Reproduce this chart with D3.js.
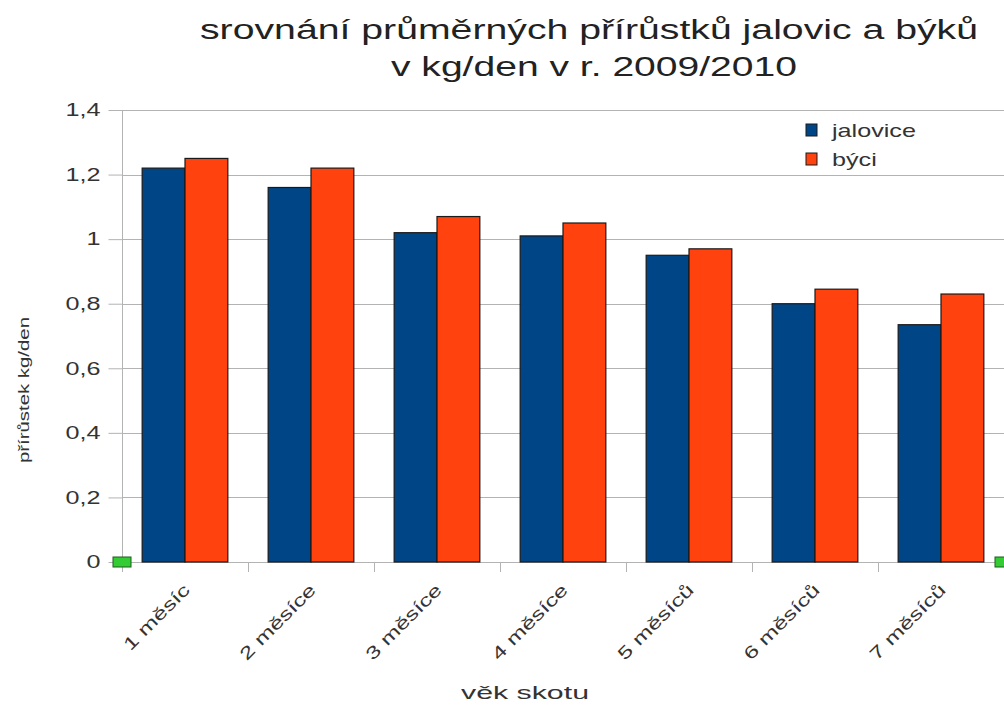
<!DOCTYPE html>
<html>
<head>
<meta charset="utf-8">
<script src="https://cdn.jsdelivr.net/npm/d3@7"></script>
<style>
  html, body { margin: 0; padding: 0; background: #fff; }
  svg { display: block; }
  text { font-family: "Liberation Sans", Arial, sans-serif; }
</style>
</head>
<body>
<svg id="chart" width="1004" height="706"></svg>
<script>
// Average daily weight gain (kg/day), heifers vs bulls, 2009/2010
const categories = ["1 měsíc", "2 měsíce", "3 měsíce", "4 měsíce", "5 měsíců", "6 měsíců", "7 měsíců"];
const seriesNames = ["jalovice", "býci"];
const jalovice = [1.22, 1.16, 1.02, 1.01, 0.95, 0.80, 0.735];
const byci = [1.25, 1.22, 1.07, 1.05, 0.97, 0.845, 0.83];
const yTicks = [0, 0.2, 0.4, 0.6, 0.8, 1, 1.2, 1.4];
const yTickLabels = ["0", "0,2", "0,4", "0,6", "0,8", "1", "1,2", "1,4"];
const colors = ["#004586", "#ff420e"];

const titleLines = ["srovnání průměrných přírůstků jalovic a býků", "v kg/den v r. 2009/2010"];
const xTitle = "věk skotu";
const yTitle = "přírůstek kg/den";

const stretch = 1.4; // wide lettering

const svg = d3.select("#chart");

const plot = { left: 122, right: 1004, top: 110, bottom: 562 };

const x0 = d3.scaleBand().domain(categories).range([plot.left, plot.right]).padding(0);
const bw = x0.bandwidth();
const x1 = d3.scaleBand().domain(seriesNames).range([bw * 0.16, bw * 0.84]).padding(0);
const y = d3.scaleLinear().domain([0, 1.4]).range([plot.bottom, plot.top]);

const rows = categories.map((c, i) => ({ cat: c, values: [jalovice[i], byci[i]] }));

// horizontal grid lines
svg.append("g")
  .selectAll("line")
  .data(yTicks)
  .join("line")
  .attr("x1", plot.left).attr("x2", plot.right)
  .attr("y1", d => Math.round(y(d)) + 0.5).attr("y2", d => Math.round(y(d)) + 0.5)
  .attr("stroke", "#b3b3b3").attr("stroke-width", 1);

// y axis
const yAxis = d3.axisLeft(y)
  .tickValues(yTicks)
  .tickSize(14)
  .tickSizeOuter(0)
  .tickPadding(8)
  .tickFormat((d, i) => yTickLabels[i]);

const gy = svg.append("g")
  .attr("transform", `translate(${plot.left + 0.5},0)`)
  .call(yAxis);
gy.select(".domain").attr("stroke", "#b3b3b3").attr("d", `M0,${plot.top}V${plot.bottom + 10}`);
gy.selectAll(".tick line").attr("stroke", "#b3b3b3");
gy.selectAll(".tick text")
  .attr("font-size", 18)
  .attr("fill", "#333")
  .attr("transform", function () {
    const xx = +d3.select(this).attr("x");
    return `translate(${xx},0) scale(${stretch},1) translate(${-xx},0)`;
  });

// x axis ticks at category boundaries
const xBounds = categories.map(c => x0(c)).concat([plot.right]);
svg.append("g")
  .selectAll("line")
  .data(xBounds)
  .join("line")
  .attr("x1", d => Math.round(d) + 0.5).attr("x2", d => Math.round(d) + 0.5)
  .attr("y1", plot.bottom).attr("y2", plot.bottom + 10)
  .attr("stroke", "#b3b3b3");

// bars
const groups = svg.append("g")
  .selectAll("g")
  .data(rows)
  .join("g")
  .attr("transform", d => `translate(${x0(d.cat)},0)`);

groups.selectAll("rect")
  .data(d => d.values.map((v, i) => ({ key: seriesNames[i], v, i })))
  .join("rect")
  .attr("x", d => x1(d.key))
  .attr("width", x1.bandwidth())
  .attr("y", d => y(d.v))
  .attr("height", d => y(0) - y(d.v))
  .attr("fill", d => colors[d.i])
  .attr("stroke", "#1a1a1a")
  .attr("stroke-width", 1.2);

// category labels
svg.append("g")
  .selectAll("text")
  .data(categories)
  .join("text")
  .attr("transform", d => `translate(${x0(d) + bw / 2 + 6},591) rotate(-45) scale(${stretch},1)`)
  .attr("text-anchor", "end")
  .attr("font-size", 17.5)
  .attr("fill", "#333")
  .text(d => d);

// end markers on the zero line
svg.append("g")
  .selectAll("rect")
  .data([plot.left, plot.right])
  .join("rect")
  .attr("x", d => d - 9)
  .attr("y", y(0) - 5)
  .attr("width", 18)
  .attr("height", 10)
  .attr("fill", "#33cc33")
  .attr("stroke", "#1f5c1f")
  .attr("stroke-width", 1);

// title
svg.append("text")
  .attr("x", 200).attr("y", 39)
  .attr("textLength", 778).attr("lengthAdjust", "spacingAndGlyphs")
  .attr("font-size", 27).attr("fill", "#222")
  .text(titleLines[0]);
svg.append("text")
  .attr("x", 391).attr("y", 76)
  .attr("textLength", 406).attr("lengthAdjust", "spacingAndGlyphs")
  .attr("font-size", 27).attr("fill", "#222")
  .text(titleLines[1]);

// axis titles
svg.append("text")
  .attr("x", 461).attr("y", 699)
  .attr("textLength", 128).attr("lengthAdjust", "spacingAndGlyphs")
  .attr("font-size", 19).attr("fill", "#333")
  .text(xTitle);

svg.append("text")
  .attr("transform", "translate(29,463) rotate(-90)")
  .attr("textLength", 146).attr("lengthAdjust", "spacingAndGlyphs")
  .attr("font-size", 14.5).attr("fill", "#333")
  .text(yTitle);

// legend
const legend = svg.append("g").attr("transform", "translate(806,124)");
const li = legend.selectAll("g")
  .data(seriesNames)
  .join("g")
  .attr("transform", (d, i) => `translate(0,${i * 29})`);
li.append("rect")
  .attr("width", 11).attr("height", 12)
  .attr("fill", (d, i) => colors[i])
  .attr("stroke", "#1a1a1a").attr("stroke-width", 1);
li.append("text")
  .attr("x", 26).attr("y", 13)
  .attr("font-size", 18).attr("fill", "#333")
  .attr("transform", `translate(26,0) scale(${stretch},1) translate(-26,0)`)
  .text(d => d);
</script>
</body>
</html>
